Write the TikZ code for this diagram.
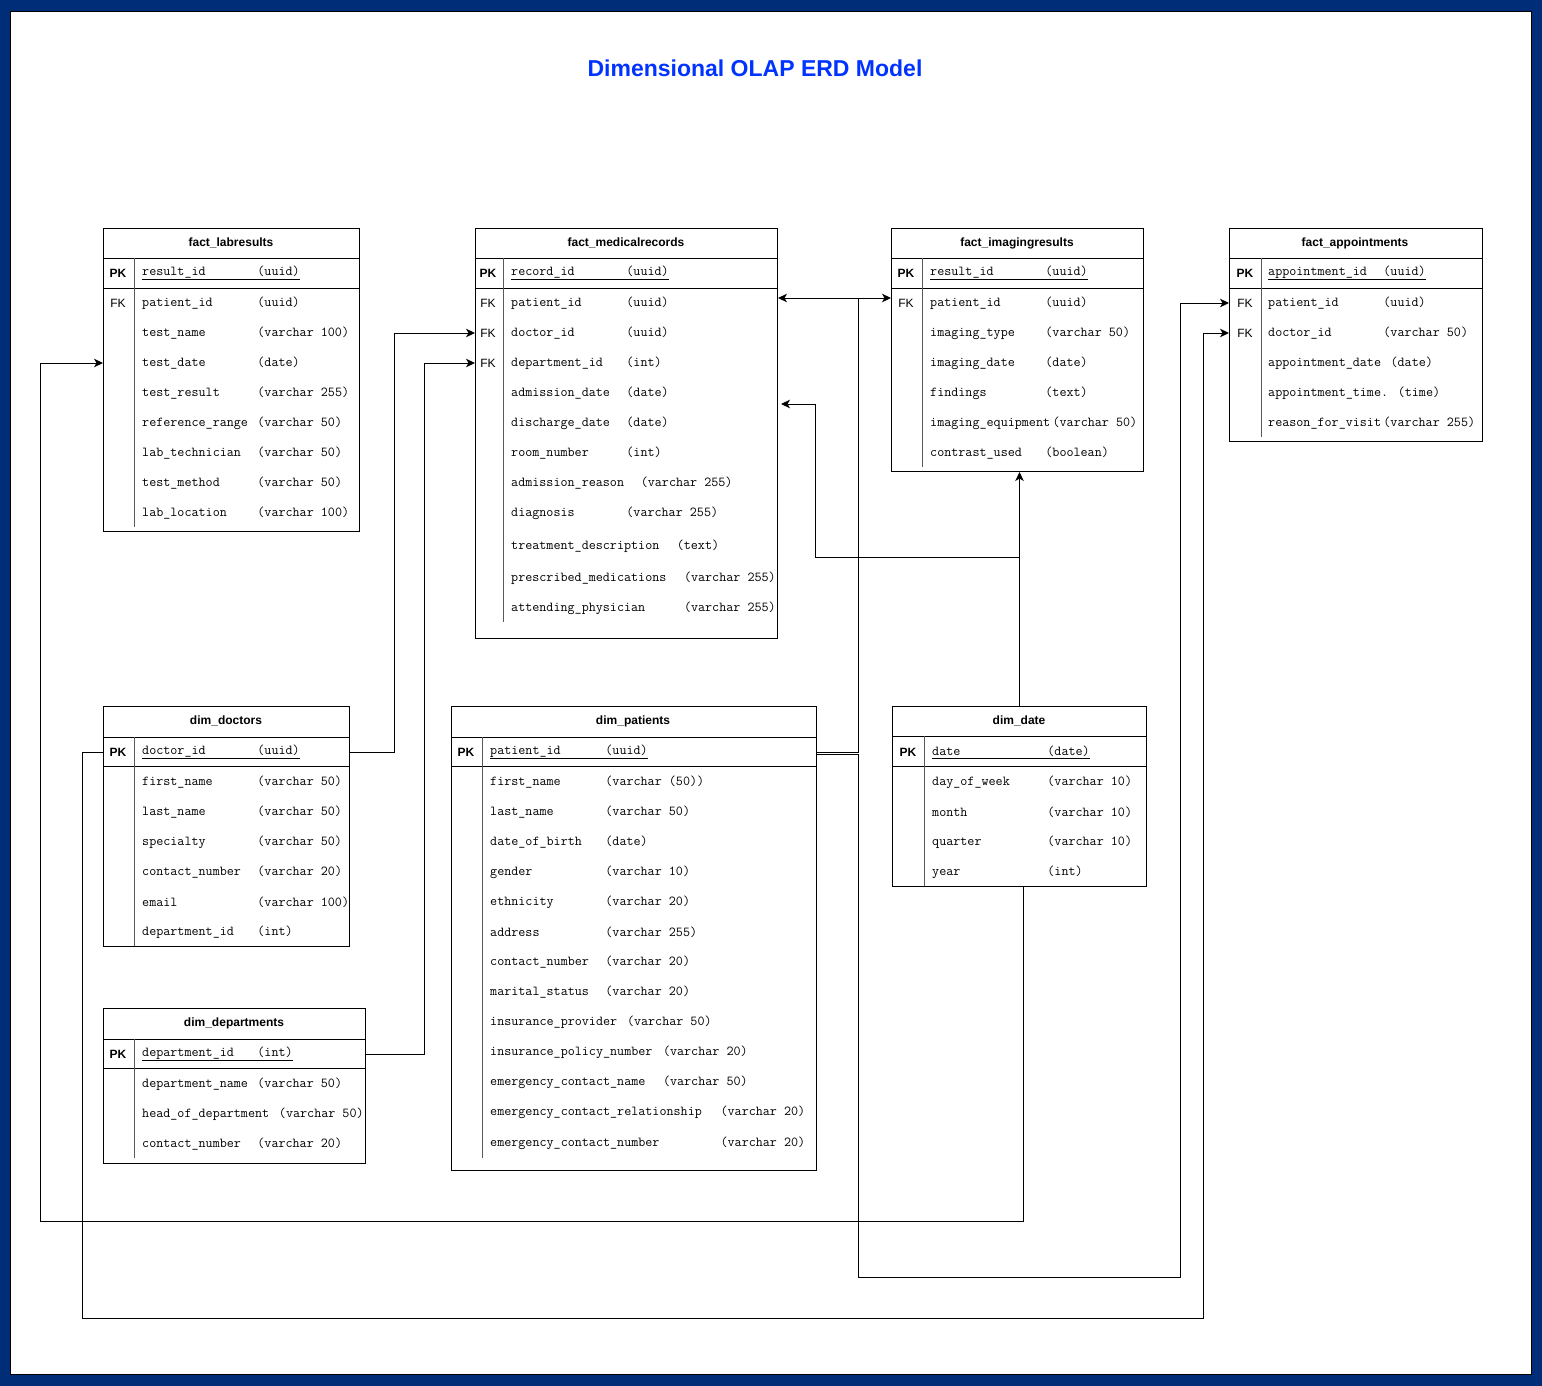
\documentclass[tikz,border=0pt]{standalone}
\usepackage{fontspec}
\setmainfont{Liberation Sans}
\usetikzlibrary{arrows.meta}
\definecolor{framenavy}{RGB}{0,45,120}
\definecolor{titleblue}{RGB}{0,51,255}
\newlength{\cw}
\setlength{\cw}{7.2pt}
\newcommand{\attr}[3]{\makebox[#2\cw][l]{#1}#3}
\begin{document}
\begin{tikzpicture}[x=1pt,y=-1pt,
  tbl/.style={draw, line width=1pt, anchor=north west},
  ttl/.style={font=\fontsize{12}{14}\selectfont\bfseries},
  keyb/.style={font=\fontsize{12}{14}\selectfont\bfseries},
  keyr/.style={font=\fontsize{12}{14}\selectfont},
  fld/.style={anchor=west, font=\fontsize{13.7}{16}\selectfont\ttfamily},
  divider/.style={line width=0.8pt, black!65},
  rel/.style={-{Stealth[length=9pt,width=8.5pt,inset=2.5pt]}, line width=0.9pt}]
\tikzstyle{every node}+=[inner sep=0pt]
% frame and title
\fill [framenavy] (0,0) rectangle (1542,1386);
\draw [fill=white, line width=1pt] (10,12) rectangle (1531,1374);
\node [font=\fontsize{23}{27}\selectfont\bfseries, text=titleblue] (title) at (755,68) {Dimensional OLAP ERD Model};
% fact_labresults
\node [tbl, minimum width=256pt, minimum height=303pt] (lab) at (103,228) {};
\draw [line width=1pt] (103,258) -- (359,258) (103,288) -- (359,288);
\draw [divider] (134,258) -- (134,527);
\node [ttl] (lab-t) at (231,243) {fact\_labresults};
\node [keyb] (lab-pkk) at (118,273) {PK};
\node [keyr] (lab-fk1) at (118,303) {FK};
\node [fld] (lab-pk) at (142,273) {\underline{\attr{result\_id}{16}{(uuid)}}};
\foreach \yy/\nm/\pw/\ty [count=\i] in {303/patient\_id/16/(uuid), 333/test\_name/16/(varchar 100),
  363/test\_date/16/(date), 393/test\_result/16/(varchar 255), 423/reference\_range/16/(varchar 50),
  453/lab\_technician/16/(varchar 50), 483/test\_method/16/(varchar 50), 513/lab\_location/16/(varchar 100)}
  \node [fld] (lab-\i) at (142,\yy) {\attr{\nm}{\pw}{\ty}};
% fact_medicalrecords
\node [tbl, minimum width=302pt, minimum height=410pt] (med) at (475,228) {};
\draw [line width=1pt] (475,258) -- (777,258) (475,288) -- (777,288);
\draw [divider] (503,258) -- (503,622);
\node [ttl] (med-t) at (626,243) {fact\_medicalrecords};
\node [keyb] (med-pkk) at (488,273) {PK};
\node [keyr] (med-fk1) at (488,303) {FK};
\node [keyr] (med-fk2) at (488,333) {FK};
\node [keyr] (med-fk3) at (488,363) {FK};
\node [fld] (med-pk) at (511,273) {\underline{\attr{record\_id}{16}{(uuid)}}};
\foreach \yy/\nm/\pw/\ty [count=\i] in {303/patient\_id/16/(uuid), 333/doctor\_id/16/(uuid),
  363/department\_id/16/(int), 393/admission\_date/16/(date), 423/discharge\_date/16/(date),
  453/room\_number/16/(int), 483/admission\_reason/18/(varchar 255), 513/diagnosis/16/(varchar 255),
  546/treatment\_description/23/(text), 578/prescribed\_medications/24/(varchar 255),
  608/attending\_physician/24/(varchar 255)}
  \node [fld] (med-\i) at (511,\yy) {\attr{\nm}{\pw}{\ty}};
% fact_imagingresults
\node [tbl, minimum width=252pt, minimum height=243pt] (img) at (891,228) {};
\draw [line width=1pt] (891,258) -- (1143,258) (891,288) -- (1143,288);
\draw [divider] (922,258) -- (922,467);
\node [ttl] (img-t) at (1017,243) {fact\_imagingresults};
\node [keyb] (img-pkk) at (906,273) {PK};
\node [keyr] (img-fk1) at (906,303) {FK};
\node [fld] (img-pk) at (930,273) {\underline{\attr{result\_id}{16}{(uuid)}}};
\foreach \yy/\nm/\pw/\ty [count=\i] in {303/patient\_id/16/(uuid), 333/imaging\_type/16/(varchar 50),
  363/imaging\_date/16/(date), 393/findings/16/(text), 423/imaging\_equipment/17/(varchar 50),
  453/contrast\_used/16/(boolean)}
  \node [fld] (img-\i) at (930,\yy) {\attr{\nm}{\pw}{\ty}};
% fact_appointments
\node [tbl, minimum width=253pt, minimum height=213pt] (apt) at (1229,228) {};
\draw [line width=1pt] (1229,258) -- (1482,258) (1229,288) -- (1482,288);
\draw [divider] (1261,258) -- (1261,437);
\node [ttl] (apt-t) at (1355,243) {fact\_appointments};
\node [keyb] (apt-pkk) at (1245,273) {PK};
\node [keyr] (apt-fk1) at (1245,303) {FK};
\node [keyr] (apt-fk2) at (1245,333) {FK};
\node [fld] (apt-pk) at (1268,273) {\underline{\attr{appointment\_id}{16}{(uuid)}}};
\foreach \yy/\nm/\pw/\ty [count=\i] in {303/patient\_id/16/(uuid), 333/doctor\_id/16/(varchar 50),
  363/appointment\_date/17/(date), 393/appointment\_time./18/(time), 423/reason\_for\_visit/16/(varchar 255)}
  \node [fld] (apt-\i) at (1268,\yy) {\attr{\nm}{\pw}{\ty}};
% dim_doctors
\node [tbl, minimum width=246pt, minimum height=240pt] (doc) at (103,706) {};
\draw [line width=1pt] (103,737) -- (349,737) (103,766) -- (349,766);
\draw [divider] (134,737) -- (134,946);
\node [ttl] (doc-t) at (226,721) {dim\_doctors};
\node [keyb] (doc-pkk) at (118,752) {PK};
\node [fld] (doc-pk) at (142,752) {\underline{\attr{doctor\_id}{16}{(uuid)}}};
\foreach \yy/\nm/\pw/\ty [count=\i] in {782/first\_name/16/(varchar 50), 812/last\_name/16/(varchar 50),
  842/specialty/16/(varchar 50), 872/contact\_number/16/(varchar 20), 902/email/16/(varchar 100),
  932/department\_id/16/(int)}
  \node [fld] (doc-\i) at (142,\yy) {\attr{\nm}{\pw}{\ty}};
% dim_departments
\node [tbl, minimum width=262pt, minimum height=155pt] (dep) at (103,1008) {};
\draw [line width=1pt] (103,1039) -- (365,1039) (103,1068) -- (365,1068);
\draw [divider] (134,1039) -- (134,1158);
\node [ttl] (dep-t) at (234,1023) {dim\_departments};
\node [keyb] (dep-pkk) at (118,1054) {PK};
\node [fld] (dep-pk) at (142,1054) {\underline{\attr{department\_id}{16}{(int)}}};
\foreach \yy/\nm/\pw/\ty [count=\i] in {1084/department\_name/16/(varchar 50),
  1114/head\_of\_department/19/(varchar 50), 1144/contact\_number/16/(varchar 20)}
  \node [fld] (dep-\i) at (142,\yy) {\attr{\nm}{\pw}{\ty}};
% dim_patients
\node [tbl, minimum width=365pt, minimum height=464pt] (pat) at (451,706) {};
\draw [line width=1pt] (451,737) -- (816,737) (451,766) -- (816,766);
\draw [divider] (482,737) -- (482,1158);
\node [ttl] (pat-t) at (633,721) {dim\_patients};
\node [keyb] (pat-pkk) at (466,752) {PK};
\node [fld] (pat-pk) at (490,752) {\underline{\attr{patient\_id}{16}{(uuid)}}};
\foreach \yy/\nm/\pw/\ty [count=\i] in {782/first\_name/16/(varchar (50)), 812/last\_name/16/(varchar 50),
  842/date\_of\_birth/16/(date), 872/gender/16/(varchar 10), 902/ethnicity/16/(varchar 20),
  932/address/16/(varchar 255), 962/contact\_number/16/(varchar 20), 992/marital\_status/16/(varchar 20),
  1022/insurance\_provider/19/(varchar 50), 1052/insurance\_policy\_number/24/(varchar 20),
  1082/emergency\_contact\_name/24/(varchar 50), 1112/emergency\_contact\_relationship/32/(varchar 20),
  1143/emergency\_contact\_number/32/(varchar 20)}
  \node [fld] (pat-\i) at (490,\yy) {\attr{\nm}{\pw}{\ty}};
% dim_date
\node [tbl, minimum width=254pt, minimum height=180pt] (date) at (892,706) {};
\draw [line width=1pt] (892,736) -- (1146,736) (892,766) -- (1146,766);
\draw [divider] (924,736) -- (924,886);
\node [ttl] (date-t) at (1019,721) {dim\_date};
\node [keyb] (date-pkk) at (908,752) {PK};
\node [fld] (date-pk) at (932,752) {\underline{\attr{date}{16}{(date)}}};
\foreach \yy/\nm/\pw/\ty [count=\i] in {782/day\_of\_week/16/(varchar 10), 812/month/16/(varchar 10),
  842/quarter/16/(varchar 10), 872/year/16/(int)}
  \node [fld] (date-\i) at (932,\yy) {\attr{\nm}{\pw}{\ty}};
% relations
\coordinate (pbend) at (858,298);
\draw [rel] (pat.east |- pat-pk) -| (pbend) -- (med.east |- pbend);
\draw [rel] (pat.east |- pat-pk) -| (pbend) -- (img.west |- pbend);
\draw [rel] ([yshift=-2pt]pat.east |- pat-pk) -- ++(41,0) -- ++(0,523) -| ([xshift=-49pt]apt.west |- apt-1) -- (apt.west |- apt-1);
\draw [rel] (doc.east |- doc-pk) -| ([xshift=-81pt]med.west |- med-2) -- (med.west |- med-2);
\draw [rel] (doc.west |- doc-pk) -- ++(-21,0) -- ++(0,566) -| ([xshift=-26pt]apt.west |- apt-2) -- (apt.west |- apt-2);
\draw [rel] (dep.east |- dep-pk) -| ([xshift=-51pt]med.west |- med-3) -- (med.west |- med-3);
\draw [rel] ([xshift=4pt]date.south) -- ++(0,334) -| ([xshift=-63pt]lab.west |- lab-3) -- (lab.west |- lab-3);
\draw [rel] (date.north) -- (date.north |- img.south);
\draw [rel] (date.north) -- ++(0,-149) -| ([xshift=37pt,yshift=-11pt]med.east |- med-4) -- ([xshift=3pt,yshift=-11pt]med.east |- med-4);
\end{tikzpicture}
\end{document}
